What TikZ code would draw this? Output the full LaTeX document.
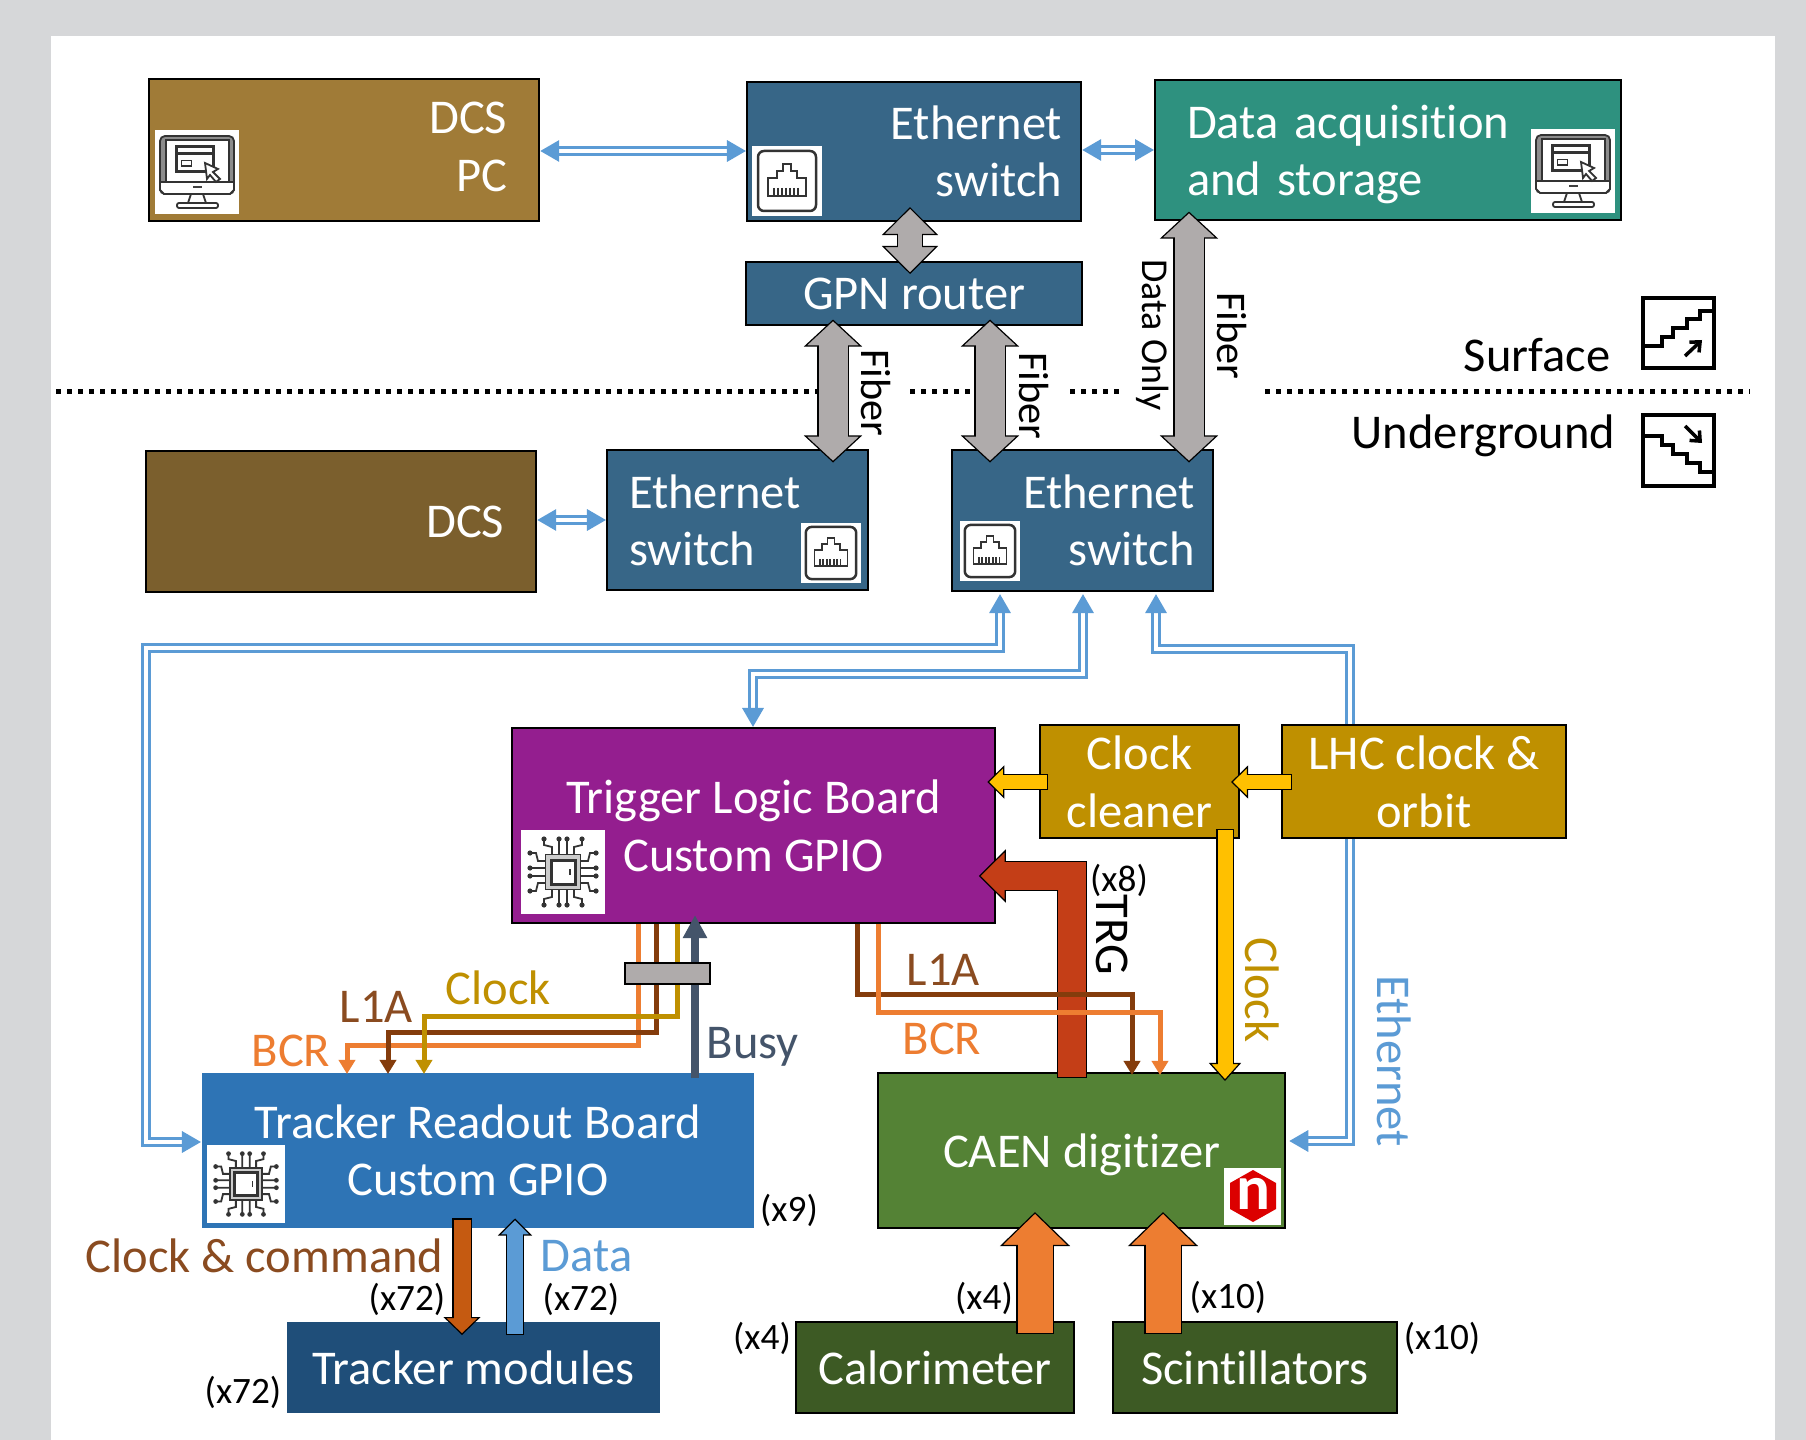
\documentclass[tikz,border=0pt]{standalone}
\usepackage{fontspec}
\setmainfont{Carlito}[Ligatures=NoCommon]
\usepackage{xcolor}
\usetikzlibrary{arrows.meta,positioning}
\definecolor{pageGrey}{HTML}{D6D7D9}
\definecolor{dcsLight}{HTML}{A07B37}
\definecolor{dcsDark}{HTML}{7B5F2D}
\definecolor{switchBlue}{HTML}{376687}
\definecolor{daqGreen}{HTML}{2E917F}
\definecolor{tlbPurple}{HTML}{941E8F}
\definecolor{clockGold}{HTML}{BF9000}
\definecolor{trbBlue}{HTML}{2E74B5}
\definecolor{caenGreen}{HTML}{548235}
\definecolor{moduleBlue}{HTML}{1F4E79}
\definecolor{detGreen}{HTML}{3D5A24}
\definecolor{fiberGrey}{HTML}{AFABAB}
\definecolor{ethBlue}{HTML}{5B9BD5}
\definecolor{bcrOrange}{HTML}{ED7D31}
\definecolor{l1aBrown}{HTML}{843C0C}
\definecolor{lblBrown}{HTML}{8A4B20}
\definecolor{busySlate}{HTML}{44546A}
\definecolor{trgRed}{HTML}{C43E17}
\definecolor{cmdBrown}{HTML}{C55A11}
\definecolor{clkYellow}{HTML}{FFC000}
\definecolor{logoRed}{HTML}{DC0000}
\tikzset{
  hwbox/.style={anchor=north west, inner sep=0pt, text=white, align=center,
    font=\fontsize{13.8}{16.3}\selectfont},
  blackbox/.style={hwbox, draw=black, line width=.02cm},
  flatbox/.style={text depth=0pt},
  lbl/.style={inner sep=0pt, font=\fontsize{13.8}{16.3}\selectfont},
  fiberlbl/.style={inner sep=0pt, rotate=-90, font=\fontsize{12}{14}\selectfont},
  countlbl/.style={inner sep=0pt, font=\fontsize{10.6}{12}\selectfont},
  ethlink/.style={draw=ethBlue, line width=.0325cm, double=white, double distance=.035cm,
    {Triangle[width=.21cm, length=.19cm]}-{Triangle[width=.21cm, length=.19cm]}},
  wire/.style={draw=#1, line width=.05cm, -{Triangle[width=.16cm, length=.14cm]}},
  dotline/.style={line width=.05cm, dash pattern=on .05cm off .06cm},
  fatarrow/.style n args={4}{draw=black, line width=#2cm+.024cm,
    -{Triangle[width=#3cm, length=#4cm, fill=#1, color=black, line width=.012cm]},
    postaction={draw=#1, line width=#2cm, arrows=-, shorten >=#4cm-.03cm, shorten <=.012cm}},
  fatboth/.style n args={4}{draw=black, line width=#2cm+.024cm,
    {Triangle[width=#3cm, length=#4cm, fill=#1, color=black, line width=.012cm]}-{Triangle[width=#3cm, length=#4cm, fill=#1, color=black, line width=.012cm]},
    postaction={draw=#1, line width=#2cm, arrows=-, shorten >=#4cm-.03cm, shorten <=#4cm-.03cm}},
  iconline/.style={draw=black!80, line width=.018cm},
  monitoricon/.pic={
    \fill[white] (-42,-42) rectangle (42,42);
    \draw[iconline, fill=black!45, rounded corners=.05cm] (-37,-36) rectangle (37,22);
    \draw[iconline, fill=white] (-31,-32) rectangle (32,10);
    \draw[iconline, fill=white] (-37,10) -- (37,10) -- (37,18) -- (33,22) -- (-33,22) -- (-37,18) -- cycle;
    \draw[iconline, line width=.03cm] (-21,-25) rectangle (16,0) (-21,-18) -- (16,-18);
    \draw[iconline] (-15.5,-11.5) rectangle (-5.5,-6);
    \draw[iconline, fill=white] (8,-9) -- (21,-3) -- (16,0) -- (23,7) -- (19,10) -- (13,3) -- (10,7) -- cycle;
    \fill[black!75] (-4,14) rectangle (4.5,16);
    \draw[iconline] (-6,22) -- (-9,31) (6,22) -- (9,31);
    \draw[iconline, fill=white, rounded corners=.02cm] (-20,31) rectangle (21,36);
  },
  jackicon/.pic={
    \fill[white] (-35,-35) rectangle (35,35);
    \draw[iconline, line width=.025cm, rounded corners=.06cm] (-29,-30) rectangle (29,30);
    \draw[iconline] (-19,15) -- (-19,-3) -- (-10,-3) -- (-10,-10) -- (-4,-10) -- (-4,-17)
      -- (4,-17) -- (4,-10) -- (10,-10) -- (10,-3) -- (19,-3) -- (19,15) -- cycle;
    \foreach \pinx in {-13,-9,...,13} {\draw[iconline] (\pinx,7) -- (\pinx,14);}
  },
  chipicon/.pic={
    \fill[white] (-42,-42) rectangle (42,42);
    \foreach \ang in {0,90,180,270} {
      \begin{scope}[rotate=\ang]
        \draw[iconline] (-4,-17) -- (-4,-33) (4,-17) -- (4,-33)
          (-11,-17) -- (-11,-25) -- (-19,-27) -- (-19,-33) (11,-17) -- (11,-25) -- (19,-27) -- (19,-33);
        \foreach \dotx in {-19,-4,4,19} {\fill[black!80] (\dotx,-33) circle (2.6);}
      \end{scope}
    }
    \draw[iconline, fill=black!20] (-17.5,-17.5) rectangle (17.5,17.5);
    \draw[iconline, fill=white, line width=.03cm] (-12,-12) rectangle (12,12);
    \draw[iconline] (7,-3) -- (7,3);
  },
}
\begin{document}
\begin{tikzpicture}[x=.01cm, y=-.01cm]
  \useasboundingbox (0,0) rectangle (1806,1440);
  \fill[pageGrey] (0,0) rectangle (1806,1440);
  \fill[white] (51,36) rectangle (1775,1440);

  % surface
  \node[blackbox, fill=dcsLight, minimum width=3.90cm, minimum height=1.42cm, text width=3.26cm, text depth=.64cm, align=right] (dcspc) at (148,78) {DCS\\PC};
  \node[blackbox, fill=switchBlue, minimum width=3.34cm, minimum height=1.39cm, text width=2.96cm, align=right] (ethtop) at (746,81) {Ethernet\\switch};
  \node[blackbox, fill=daqGreen, minimum width=4.66cm, minimum height=1.40cm, text width=4.02cm, text depth=.57cm, align=left] (daq) at (1154,79) {Data acquisition\\and storage};
  \node[blackbox, flatbox, fill=switchBlue, minimum width=3.36cm, minimum height=.63cm] (gpn) at (745,261) {GPN router};
  % underground
  \node[blackbox, fill=dcsDark, minimum width=3.90cm, minimum height=1.41cm, text width=3.26cm, align=right] (dcs) at (145,450) {DCS};
  \node[blackbox, fill=switchBlue, minimum width=2.61cm, minimum height=1.40cm, text width=2.17cm, align=left] (ethleft) at (606,449) {Ethernet\\switch};
  \node[blackbox, fill=switchBlue, minimum width=2.61cm, minimum height=1.41cm, text width=2.24cm, align=right] (ethright) at (951,449) {Ethernet\\switch};
  \node[blackbox, flatbox, fill=tlbPurple, minimum width=4.83cm, minimum height=1.95cm] (tlb) at (511,727) {Trigger Logic Board\\Custom GPIO};
  \node[hwbox, flatbox, fill=trbBlue, minimum width=5.52cm, minimum height=1.55cm] (trb) at (201,1072) {Tracker Readout Board\\Custom GPIO};
  \node[blackbox, flatbox, fill=caenGreen, minimum width=4.07cm, minimum height=1.55cm] (caen) at (877,1072) {CAEN digitizer};
  \node[hwbox, flatbox, fill=moduleBlue, minimum width=3.73cm, minimum height=.91cm] (modules) at (286,1321) {Tracker modules};
  \node[blackbox, flatbox, fill=detGreen, minimum width=2.78cm, minimum height=.91cm] (calo) at (795,1321) {Calorimeter};
  \node[blackbox, flatbox, fill=detGreen, minimum width=2.84cm, minimum height=.91cm] (scint) at (1112,1321) {Scintillators};

  % ethernet links, the third one runs under the LHC box
  \draw[ethlink] (dcspc.east |- 0,151) -- (ethtop.west |- 0,151);
  \draw[ethlink] (ethtop.east |- 0,150) -- (daq.west |- 0,150);
  \draw[ethlink] (dcs.east |- 0,520) -- (ethleft.west |- 0,520);
  \draw[ethlink] ([yshift=-.02cm]1000,0 |- ethright.south) -- (1000,648) -- (146,648) -- (146,1142) -- (trb.west |- 0,1142);
  \draw[ethlink] ([yshift=-.02cm]1083,0 |- ethright.south) -- (1083,674) -- (753,674) -- (753,0 |- tlb.north);
  \draw[ethlink] ([yshift=-.02cm]1156,0 |- ethright.south) -- (1156,649) -- (1350,649) -- (1350,1141) -- ([xshift=.03cm]caen.east |- 0,1141);

  \node[blackbox, flatbox, fill=clockGold, minimum width=1.99cm, minimum height=1.13cm] (cleaner) at (1039,724) {Clock\\cleaner};
  \node[blackbox, flatbox, fill=clockGold, minimum width=2.84cm, minimum height=1.13cm] (lhc) at (1281,724) {LHC clock \&\\orbit};

  % surface line
  \draw[dotline] (56,392) -- (818,392);
  \draw[dotline] (910,392) -- (975,392);
  \draw[dotline] (1070,392) -- (1120,392);
  \draw[dotline] (1265,392) -- (1750,392);

  % fibers
  \draw[fatboth={fiberGrey}{.24}{.56}{.28}] ([yshift=.15cm]910,0 |- ethtop.south) -- ([yshift=-.13cm]910,0 |- gpn.north);
  \draw[fatboth={fiberGrey}{.29}{.58}{.27}] ([yshift=.065cm]833,0 |- gpn.south) -- ([yshift=-.135cm]833,0 |- ethleft.north);
  \draw[fatboth={fiberGrey}{.29}{.58}{.27}] ([yshift=.065cm]990,0 |- gpn.south) -- ([yshift=-.135cm]990,0 |- ethright.north);
  \draw[fatboth={fiberGrey}{.29}{.58}{.27}] ([yshift=.095cm]1189,0 |- daq.south) -- ([yshift=-.135cm]1189,0 |- ethright.north);

  % clock path
  \draw[fatarrow={clkYellow}{.14}{.33}{.17}] ([xshift=.11cm]lhc.west |- 0,782) -- ([xshift=-.09cm]cleaner.east |- 0,782);
  \draw[fatarrow={clkYellow}{.14}{.33}{.17}] ([xshift=.09cm]cleaner.west |- 0,782) -- ([xshift=-.09cm]tlb.east |- 0,782);
  \draw[fatarrow={clkYellow}{.15}{.32}{.18}] ([yshift=.10cm]1225,0 |- cleaner.south) -- ([yshift=-.09cm]1225,0 |- caen.north);

  % trigger path
  \draw[fatarrow={trgRed}{.28}{.53}{.27}] ([yshift=-.06cm]1072,0 |- caen.north) -- (1072,876) -- ([xshift=-.175cm]tlb.east |- 0,876);
  \draw[wire=l1aBrown] (857,0 |- tlb.south) -- (857,994) -- (1132,994) -- ([yshift=-.03cm]1132,0 |- caen.north);
  \draw[wire=bcrOrange] (878,0 |- tlb.south) -- (878,1012) -- (1160,1012) -- ([yshift=-.03cm]1160,0 |- caen.north);

  % readout board control lines
  \draw[wire=bcrOrange] (638,0 |- tlb.south) -- (638,1045) -- (347,1045) -- ([yshift=-.02cm]347,0 |- trb.north);
  \draw[wire=l1aBrown] (656,0 |- tlb.south) -- (656,1032) -- (388,1032) -- ([yshift=-.02cm]388,0 |- trb.north);
  \draw[wire=clockGold] (677,0 |- tlb.south) -- (677,1016) -- (424,1016) -- ([yshift=-.02cm]424,0 |- trb.north);
  \draw[draw=busySlate, line width=.075cm, -{Triangle[width=.23cm, length=.23cm]}] ([yshift=-.06cm]695,0 |- trb.north) -- ([yshift=.09cm]695,0 |- tlb.south);
  \node[anchor=north west, inner sep=0pt, draw=black, line width=.02cm, fill=fiberGrey, minimum width=.85cm, minimum height=.21cm] (busbar) at (624,962) {};

  % front end
  \draw[fatarrow={cmdBrown}{.17}{.37}{.18}] ([yshift=.10cm]462,0 |- trb.south) -- ([yshift=-.14cm]462,0 |- modules.north);
  \draw[fatarrow={ethBlue}{.16}{.34}{.17}] ([yshift=-.14cm]515,0 |- modules.north) -- ([yshift=.10cm]515,0 |- trb.south);
  \draw[fatarrow={bcrOrange}{.35}{.70}{.34}] ([yshift=-.13cm]1035,0 |- calo.north) -- ([yshift=.17cm]1035,0 |- caen.south);
  \draw[fatarrow={bcrOrange}{.35}{.70}{.34}] ([yshift=-.13cm]1163,0 |- scint.north) -- ([yshift=.17cm]1163,0 |- caen.south);

  % icons
  \pic (dcsicon) at (197,172) {monitoricon};
  \pic (daqicon) at (1573,171) {monitoricon};
  \pic (jacktop) at (787,181) {jackicon};
  \pic[scale=.87] (jackleft) at (831,553) {jackicon};
  \pic[scale=.87] (jackright) at (990,551) {jackicon};
  \pic (chiptlb) at (563,872) {chipicon};
  \pic[scale=.92] (chiptrb) at (246,1184) {chipicon};
  % caen logo
  \fill[white] (1224,1168) rectangle (1281,1225);
  \fill[logoRed] (1253,1170) -- (1276,1183) -- (1276,1209) -- (1253,1222) -- (1230,1209) -- (1230,1183) -- cycle;
  \node[inner sep=0pt, text=white, font=\fontsize{18}{18}\selectfont\bfseries] (caenn) at (1253,1194) {n};
  % stairs
  \draw[line width=.04cm] (1643,298) rectangle (1714,368);
  \draw[line width=.035cm] (1643,346) -- (1662,346) -- (1662,337) -- (1673,337) -- (1673,328) -- (1687,328) -- (1687,319) -- (1700,319) -- (1700,311) -- (1714,311);
  \draw[line width=.035cm, -{Straight Barb[length=.08cm, width=.14cm]}] (1685,356) -- (1702,340);
  \draw[line width=.04cm] (1643,415) rectangle (1714,486);
  \draw[line width=.035cm] (1643,436) -- (1662,436) -- (1662,445) -- (1673,445) -- (1673,454) -- (1687,454) -- (1687,463) -- (1700,463) -- (1700,472) -- (1714,472);
  \draw[line width=.035cm, -{Straight Barb[length=.08cm, width=.14cm]}] (1685,426) -- (1702,443);

  % labels
  \node[lbl, anchor=base east] (surfacelbl) at (1611,372) {Surface};
  \node[lbl, anchor=base east] (undergroundlbl) at (1616,449) {Underground};
  \node[fiberlbl] (fiberleft) at (876,393) {Fiber};
  \node[fiberlbl] (fibermid) at (1034,396) {Fiber};
  \node[fiberlbl, font=\fontsize{10.8}{13}\selectfont] (dataonly) at (1153,335) {Data Only};
  \node[fiberlbl] (fiberright) at (1232,336) {Fiber};
  \node[lbl, rotate=-90, text=ethBlue] (ethernetlbl) at (1394,1061) {Ethernet};
  \node[lbl, rotate=-90, text=clockGold] (clocklbl) at (1262,990) {Clock};
  \node[lbl, rotate=-90] (trglbl) at (1112,935) {TRG};
  \node[countlbl] (trgcount) at (1119,880) {(x8)};
  \node[lbl, anchor=base west, text=lblBrown] (l1aright) at (906,985) {L1A};
  \node[lbl, anchor=base west, text=bcrOrange] (bcrright) at (902,1054) {BCR};
  \node[lbl, anchor=base west, text=clockGold] (clockleft) at (445,1004) {Clock};
  \node[lbl, anchor=base west, text=lblBrown] (l1aleft) at (339,1022) {L1A};
  \node[lbl, anchor=base west, text=bcrOrange] (bcrleft) at (251,1066) {BCR};
  \node[lbl, anchor=base west, text=busySlate] (busylbl) at (706,1058) {Busy};
  \node[lbl, anchor=base east, text=lblBrown] (cmdlbl) at (444,1272) {Clock \& command};
  \node[lbl, anchor=base west, text=ethBlue] (datalbl) at (540,1271) {Data};
  \node[countlbl] (trbcount) at (789,1210) {(x9)};
  \node[countlbl] (cmdcount) at (407,1299) {(x72)};
  \node[countlbl] (datacount) at (581,1299) {(x72)};
  \node[countlbl] (modcount) at (243,1392) {(x72)};
  \node[countlbl] (calolink) at (984,1298) {(x4)};
  \node[countlbl] (scintlink) at (1228,1297) {(x10)};
  \node[countlbl] (calocount) at (762,1338) {(x4)};
  \node[countlbl] (scintcount) at (1442,1338) {(x10)};
\end{tikzpicture}
\end{document}
